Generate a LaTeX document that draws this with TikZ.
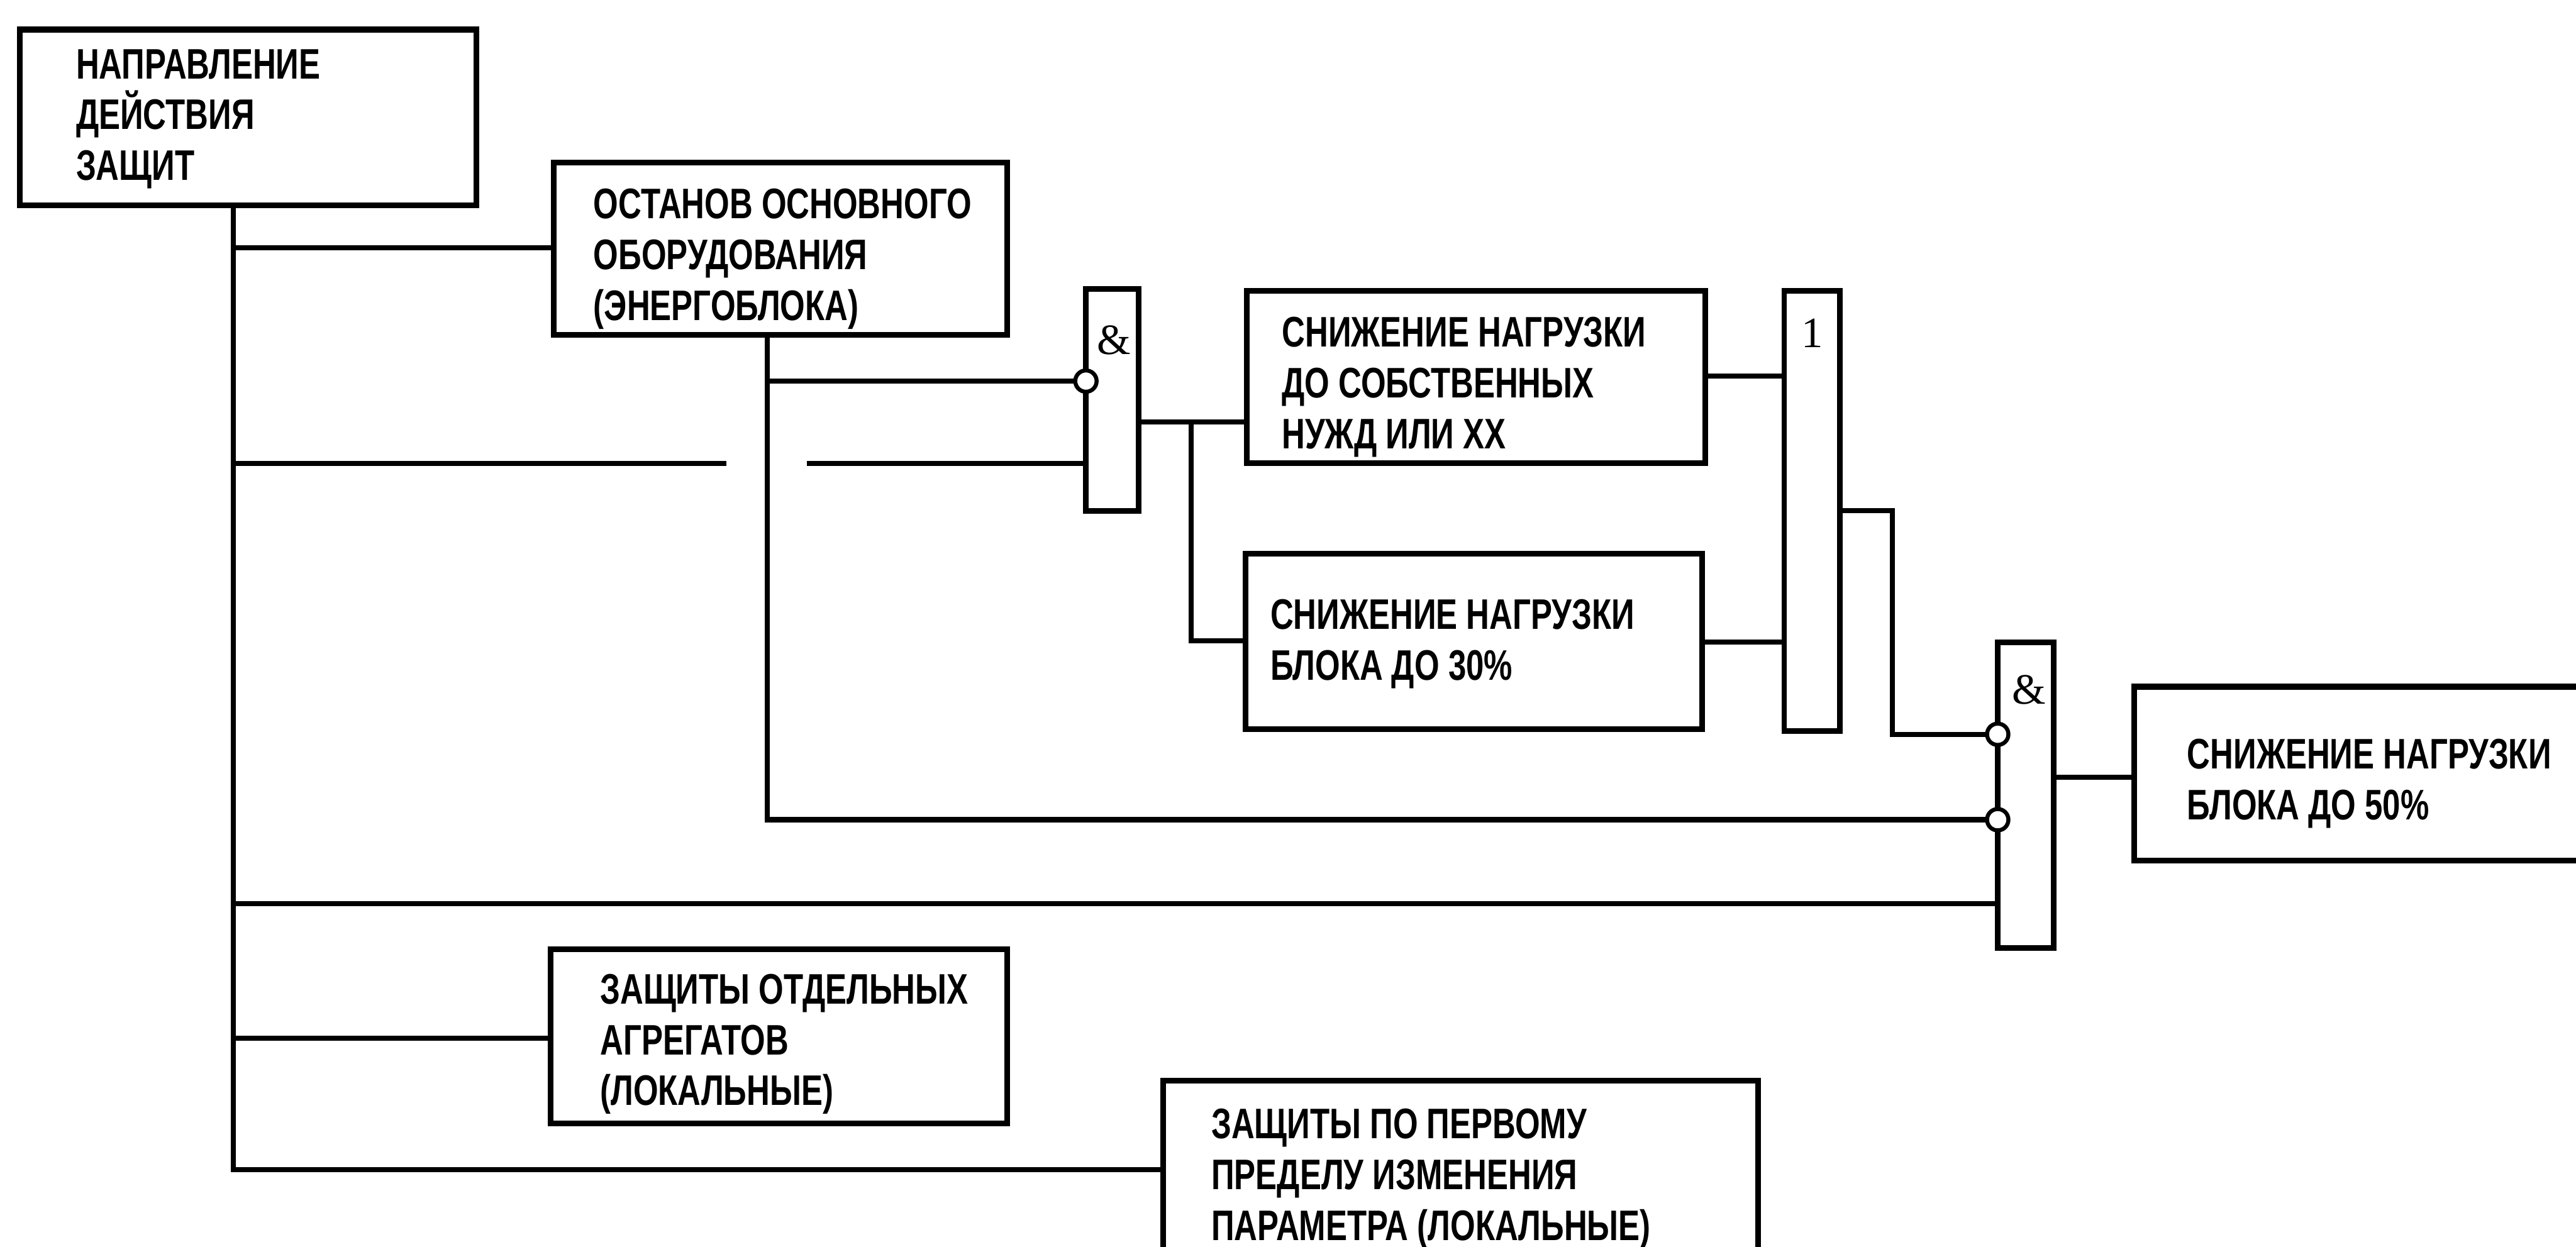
\documentclass[tikz,border=0pt]{standalone}
\usepackage{fontspec}
\setmainfont{Liberation Sans}[FakeStretch=0.75, UprightFont=*-Bold]
\newfontfamily\gatefont{Liberation Serif}
\usetikzlibrary{fit}
\begin{document}
\begin{tikzpicture}[x=0.02cm, y=-0.02cm,
  box/.style={draw, line width=2pt, inner sep=0pt},
  gate/.style={draw, line width=1.9pt, inner sep=0pt},
  txt/.style={anchor=north west, inner sep=0pt, align=left, font=\fontsize{14.8pt}{17.6pt}\selectfont},
  wire/.style={line width=1.75pt},
  inv/.style={circle, draw, fill=white, line width=1.4pt, minimum size=0.26cm, inner sep=0pt},
  glabel/.style={font=\gatefont\fontsize{15pt}{15pt}\selectfont, inner sep=0pt}]
\useasboundingbox (0,0) rectangle (1568,759);
\clip (0,0) rectangle (1568,759);
\fill[white] (0,0) rectangle (1568,759);

% boxes
\node[box, fit={(12,18) (290,125)}] (A) {};
\node[box, fit={(337,99) (613,204)}] (B) {};
\node[box, fit={(759,177) (1038,282)}] (C) {};
\node[box, fit={(758,337) (1036,444)}] (D) {};
\node[box, fit={(1299,418) (1620,524)}] (E) {};
\node[box, fit={(335,578) (613,684)}] (F) {};
\node[box, fit={(708,658) (1070,790)}] (G) {};

% texts
\node[txt] (At) at (46,29.7) {НАПРАВЛЕНИЕ\\ДЕЙСТВИЯ\\ЗАЩИТ};
\node[txt] (Bt) at (361,114.6) {ОСТАНОВ ОСНОВНОГО\\ОБОРУДОВАНИЯ\\(ЭНЕРГОБЛОКА)};
\node[txt] (Ct) at (780,192.6) {СНИЖЕНИЕ НАГРУЗКИ\\ДО СОБСТВЕННЫХ\\НУЖД ИЛИ ХХ};
\node[txt] (Dt) at (773,364.6) {СНИЖЕНИЕ НАГРУЗКИ\\БЛОКА ДО 30\%};
\node[txt] (Et) at (1331,449.6) {СНИЖЕНИЕ НАГРУЗКИ\\БЛОКА ДО 50\%};
\node[txt] (Ft) at (365,592.6) {ЗАЩИТЫ ОТДЕЛЬНЫХ\\АГРЕГАТОВ\\(ЛОКАЛЬНЫЕ)};
\node[txt] (Gt) at (737,674.6) {ЗАЩИТЫ ПО ПЕРВОМУ\\ПРЕДЕЛУ ИЗМЕНЕНИЯ\\ПАРАМЕТРА (ЛОКАЛЬНЫЕ)};

% gates
\node[gate, fit={(661,176) (693,311)}] (G1) {};
\node[gate, fit={(1086,177) (1120,445)}] (OR) {};
\node[gate, fit={(1216,391) (1250,577)}] (G3) {};
\node[glabel] (G1l) at (678,207) {\&};
\node[glabel] (ORl) at (1103,203) {1};
\node[glabel] (G3l) at (1235,420) {\&};

% helper coordinates
\coordinate (bTop) at (142,125);
\coordinate (bBot) at (142,712);
\coordinate (t1) at (142,151);
\coordinate (t2) at (142,282);
\coordinate (t3) at (142,550);
\coordinate (t4) at (142,632);
\coordinate (gapL) at (442,282);
\coordinate (gapR) at (491,282);
\coordinate (vTop) at (467,204);
\coordinate (vTap) at (467,232);
\coordinate (vBot) at (467,499);
\coordinate (o1) at (693,257);
\coordinate (br) at (725,257);
\coordinate (brB) at (725,390);
\coordinate (y229) at (0,229);
\coordinate (y391) at (0,391);
\coordinate (y311) at (0,311);
\coordinate (orR) at (1152,311);
\coordinate (orD) at (1152,447);
\coordinate (y473) at (0,473);

% wires
\draw[wire] (bTop) -- (bBot) -- (bBot -| G.west);
\draw[wire] (t1) -- (t1 -| B.west);
\draw[wire] (t2) -- (gapL);
\draw[wire] (gapR) -- (gapR -| G1.west);
\draw[wire] (t3) -- (t3 -| G3.west);
\draw[wire] (t4) -- (t4 -| F.west);
\draw[wire] (vTop) -- (vBot) -- (vBot -| G3.west);
\draw[wire] (vTap) -- (vTap -| G1.west);
\draw[wire] (o1) -- (o1 -| C.west);
\draw[wire] (br) -- (brB) -- (brB -| D.west);
\draw[wire] (C.east |- y229) -- (OR.west |- y229);
\draw[wire] (D.east |- y391) -- (OR.west |- y391);
\draw[wire] (OR.east |- y311) -- (orR) -- (orD) -- (orD -| G3.west);
\draw[wire] (G3.east |- y473) -- (E.west |- y473);

% inverted inputs
\node[inv] (i1) at (661,232) {};
\node[inv] (i2) at (1216,447) {};
\node[inv] (i3) at (1216,499) {};
\end{tikzpicture}
\end{document}
